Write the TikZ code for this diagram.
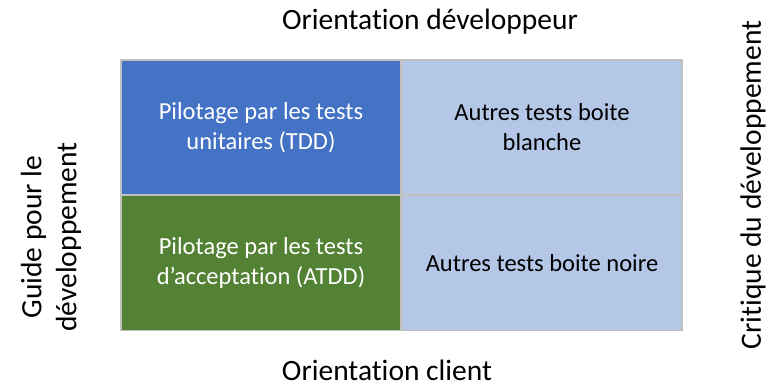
\documentclass[tikz,border=0pt]{standalone}
\usepackage{fontspec}
\setmainfont{Carlito}[Ligatures=NoCommon]
\definecolor{tddblue}{HTML}{4472C4}
\definecolor{atddgreen}{HTML}{548235}
\definecolor{paleblue}{HTML}{B4C7E7}
\definecolor{gridgray}{HTML}{C0C0C0}
\tikzset{
  cell/.style={draw=gridgray, line width=1.6pt, minimum width=280pt, minimum height=135pt,
    align=center, inner sep=0pt, font=\fontsize{24.5}{30}\selectfont},
  axislabel/.style={align=center, font=\fontsize{29.5}{35}\selectfont}
}
\begin{document}
\begin{tikzpicture}[x=1pt,y=-1pt]
        \useasboundingbox (0,0) rectangle (774,386);
        %%%%%%%%%% Cellules %%%%%%%%%%
        \node[cell, fill=tddblue, text=white] (tdd) at (261,127.5) {Pilotage par les tests\\unitaires (TDD)};
        \node[cell, fill=paleblue, text=black] (blanche) at (542,127.5) {Autres tests boite\\blanche};
        \node[cell, fill=atddgreen, text=white] (atdd) at (261,263) {Pilotage par les tests\\d’acceptation (ATDD)};
        \node[cell, fill=paleblue, text=black] (noire) at (542,263) {Autres tests boite noire};

        %%%%%%%%% Axes %%%%%%%%%
        \node[axislabel] (dev) at (430,22) {Orientation développeur};
        \node[axislabel] (client) at (387,370) {Orientation client};
        \node[axislabel, rotate=90] (guide) at (51,237) {Guide pour le\\développement};
        \node[axislabel, rotate=90] (critique) at (753,185) {Critique du développement};
    \end{tikzpicture}
\end{document}
